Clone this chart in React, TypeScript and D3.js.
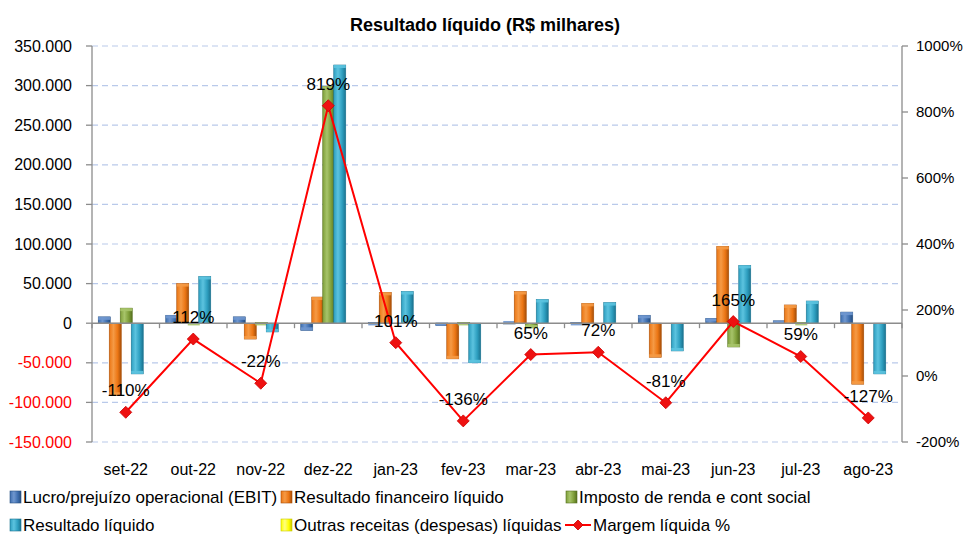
import React from "react";
import * as d3 from "d3";

const categories = ["set-22","out-22","nov-22","dez-22","jan-23","fev-23","mar-23","abr-23","mai-23","jun-23","jul-23","ago-23"];
const ebit = [8000, 10000, 8000, -9000, 1000, -3000, -1000, 1000, 10000, 6000, 3000, 14000];
const financeiro = [-91000, 50000, -20000, 33000, 39000, -45000, 40000, 25000, -43000, 97000, 23000, -77000];
const imposto = [19000, 1000, 1000, 299000, 0, 1000, -6000, 0, 0, -30000, 1000, 0];
const resultado = [-64000, 59000, -11000, 326000, 40000, -50000, 30000, 26000, -35000, 73000, 28000, -64000];
const outras = [0, 0, 0, 0, 0, 0, 0, 0, 0, 0, 0, 0];
const margem = [-110, 112, -22, 819, 101, -136, 65, 72, -81, 165, 59, -127];
const leftTicks = [-150000, -100000, -50000, 0, 50000, 100000, 150000, 200000, 250000, 300000, 350000];
const rightTicks = [-200, 0, 200, 400, 600, 800, 1000];
const seriesNames = ["Lucro/prejuízo operacional (EBIT)", "Resultado financeiro líquido", "Imposto de renda e cont social", "Resultado líquido", "Outras receitas (despesas) líquidas"];
const lineName = "Margem líquida %";

const barSeries = [ebit, financeiro, imposto, resultado, outras];
const colors = [
  { dark: "#274f80", mid: "#3f6fb0", light: "#6f97cf" },
  { dark: "#a84f08", mid: "#ec7614", light: "#f59a45" },
  { dark: "#56701f", mid: "#7f9f3a", light: "#a7c46a" },
  { dark: "#1b7390", mid: "#2e9fc0", light: "#5cc3df" },
  { dark: "#c9c900", mid: "#ffff00", light: "#ffff80" },
];

const FONT = "'Liberation Sans', Arial, sans-serif";

const locale = d3.formatLocale({ decimal: ",", thousands: ".", grouping: [3], currency: ["R$", ""], minus: "-" });
const fmt = locale.format(",.0f");

export default function App() {
  const W = 964, H = 535;
  const left = 92, right = 902, top = 46, bottom = 442;
  const x = d3.scaleBand<string>().domain(categories).range([left, right]).paddingInner(0).paddingOuter(0);
  const innerW = 55;
  const xi = d3.scaleBand<number>().domain(d3.range(barSeries.length)).range([0, innerW]);
  const y = d3.scaleLinear().domain([-150000, 350000]).range([bottom, top]);
  const y2 = d3.scaleLinear().domain([-200, 1000]).range([bottom, top]);
  const y0 = y(0);
  const bw = xi.bandwidth() + 1;

  const line = d3.line<number>()
    .x((_, i) => x(categories[i])! + x.bandwidth() / 2)
    .y((d) => y2(d));

  const diamond = (cx: number, cy: number, r: number) =>
    `M${cx},${cy - r}L${cx + r},${cy}L${cx},${cy + r}L${cx - r},${cy}Z`;

  const boundaries = d3.range(categories.length + 1).map((k) => left + k * x.step());

  const legendRow1 = 497, legendRow2 = 525;
  const legendItems = [
    { idx: 0, x: 10, y: legendRow1 },
    { idx: 1, x: 281, y: legendRow1 },
    { idx: 2, x: 566, y: legendRow1 },
    { idx: 3, x: 10, y: legendRow2 },
    { idx: 4, x: 281, y: legendRow2 },
  ];

  return (
    <svg width={W} height={H} style={{ position: "absolute", left: 0, top: 0, background: "#fff" }} fontFamily={FONT}>
      <defs>
        {colors.map((c, i) => (
          <linearGradient key={i} id={`g${i}`} x1="0" x2="1" y1="0" y2="0">
            <stop offset="0%" stopColor={c.mid} />
            <stop offset="35%" stopColor={c.light} />
            <stop offset="70%" stopColor={c.mid} />
            <stop offset="100%" stopColor={c.dark} />
          </linearGradient>
        ))}
      </defs>
      <rect x={0} y={0} width={W} height={H} fill="#fff" />
      <text x={485} y={31} textAnchor="middle" fontWeight="bold" fontSize={18}>Resultado líquido (R$ milhares)</text>

      {/* gridlines */}
      {leftTicks.filter((t) => t !== 0).map((t) => (
        <line key={t} x1={left} x2={right} y1={y(t)} y2={y(t)} stroke="#b9c9ea" strokeWidth={1.2} strokeDasharray="6,4" />
      ))}

      {/* left axis */}
      <line x1={left} x2={left} y1={top} y2={bottom} stroke="#8c8c8c" strokeWidth={1.3} />
      {leftTicks.map((t) => (
        <g key={t}>
          <line x1={left - 6} x2={left} y1={y(t)} y2={y(t)} stroke="#8c8c8c" strokeWidth={1.3} />
          <text x={72} y={y(t)} dy="0.35em" textAnchor="end" fontSize={16} fill={t < 0 ? "#ff0000" : "#000"}>{fmt(t)}</text>
        </g>
      ))}

      {/* right axis */}
      <line x1={right} x2={right} y1={top} y2={bottom} stroke="#8c8c8c" strokeWidth={1.3} />
      {rightTicks.map((t) => (
        <g key={t}>
          <line x1={right} x2={right + 6} y1={y2(t)} y2={y2(t)} stroke="#8c8c8c" strokeWidth={1.3} />
          <text x={916} y={y2(t)} dy="0.35em" textAnchor="start" fontSize={15} fill="#000">{t}%</text>
        </g>
      ))}

      {/* bars */}
      {barSeries.map((s, si) => (
        <g key={si}>
          {s.map((v, ci) => {
            if (v === 0) return null;
            const cx = x(categories[ci])! + (x.bandwidth() - innerW) / 2 + xi(si)!;
            const yv = y(v);
            const y1 = Math.min(yv, y0);
            const h = Math.abs(yv - y0);
            return (
              <g key={ci}>
                <rect x={cx} y={y1} width={bw} height={h} fill={`url(#g${si})`} stroke={colors[si].dark} strokeWidth={0.6} />
                <rect x={cx} y={v > 0 ? yv : yv - 3} width={bw} height={3} fill={colors[si].light} opacity={0.9} />
              </g>
            );
          })}
        </g>
      ))}

      {/* zero line */}
      <line x1={left} x2={right} y1={y0} y2={y0} stroke="#8c8c8c" strokeWidth={1.5} />
      {boundaries.map((bx, k) => (
        <line key={k} x1={bx} x2={bx} y1={y0} y2={y0 + 5} stroke="#8c8c8c" strokeWidth={1.3} />
      ))}

      {/* line */}
      <path d={line(margem) ?? ""} fill="none" stroke="#ff0000" strokeWidth={2} />
      {margem.map((m, i) => {
        const cx = x(categories[i])! + x.bandwidth() / 2;
        return <path key={i} d={diamond(cx, y2(m), 6)} fill="#ee1111" stroke="#cc0000" strokeWidth={0.8} />;
      })}
      {margem.map((m, i) => {
        const cx = x(categories[i])! + x.bandwidth() / 2;
        return (
          <text key={i} x={cx} y={y2(m) - 22} dy="0.35em" textAnchor="middle" fontSize={17} fill="#000">{m}%</text>
        );
      })}

      {/* category labels */}
      {categories.map((c) => (
        <text key={c} x={x(c)! + x.bandwidth() / 2} y={469} dy="0.35em" textAnchor="middle" fontSize={16}>{c}</text>
      ))}

      {/* legend */}
      {legendItems.map((it) => (
        <g key={it.idx}>
          <rect x={it.x} y={it.y - 6} width={11} height={12} fill={`url(#g${it.idx})`} stroke={colors[it.idx].dark} strokeWidth={0.6} />
          <text x={it.x + 13} y={it.y} dy="0.35em" fontSize={17}>{seriesNames[it.idx]}</text>
        </g>
      ))}
      <g>
        <line x1={565} x2={591} y1={legendRow2} y2={legendRow2} stroke="#ff0000" strokeWidth={2} />
        <path d={diamond(578, legendRow2, 5)} fill="#ee1111" stroke="#cc0000" strokeWidth={0.8} />
        <text x={593} y={legendRow2} dy="0.35em" fontSize={17}>{lineName}</text>
      </g>
    </svg>
  );
}
